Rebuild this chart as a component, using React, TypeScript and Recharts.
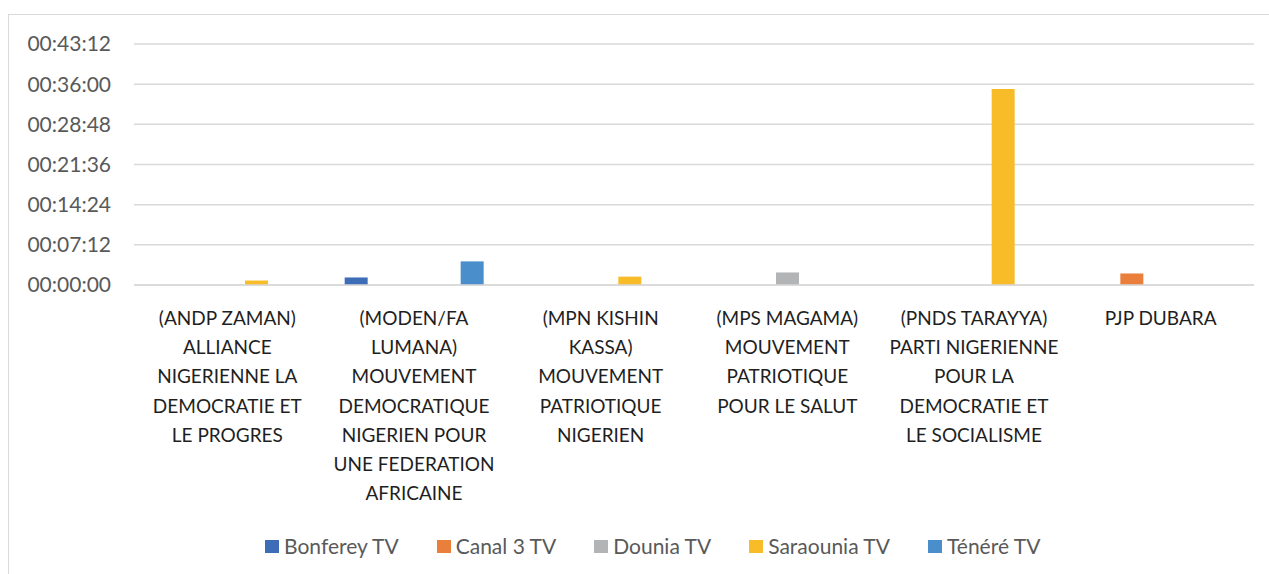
import { Bar, BarChart, CartesianGrid, XAxis, YAxis } from "recharts";

// durations in seconds
const categories = [
  "(ANDP ZAMAN) ALLIANCE NIGERIENNE LA DEMOCRATIE ET LE PROGRES",
  "(MODEN/FA LUMANA) MOUVEMENT DEMOCRATIQUE NIGERIEN POUR UNE FEDERATION AFRICAINE",
  "(MPN KISHIN KASSA) MOUVEMENT PATRIOTIQUE NIGERIEN",
  "(MPS MAGAMA) MOUVEMENT PATRIOTIQUE POUR LE SALUT",
  "(PNDS TARAYYA) PARTI NIGERIENNE POUR LA DEMOCRATIE ET LE SOCIALISME",
  "PJP DUBARA",
];

// how the category labels wrap in the original
const categoryLines = [
  ["(ANDP ZAMAN)", "ALLIANCE", "NIGERIENNE LA", "DEMOCRATIE ET", "LE PROGRES"],
  ["(MODEN/FA", "LUMANA)", "MOUVEMENT", "DEMOCRATIQUE", "NIGERIEN POUR", "UNE FEDERATION", "AFRICAINE"],
  ["(MPN KISHIN", "KASSA)", "MOUVEMENT", "PATRIOTIQUE", "NIGERIEN"],
  ["(MPS MAGAMA)", "MOUVEMENT", "PATRIOTIQUE", "POUR LE SALUT"],
  ["(PNDS TARAYYA)", "PARTI NIGERIENNE", "POUR LA", "DEMOCRATIE ET", "LE SOCIALISME"],
  ["PJP DUBARA"],
];

const bonferey = [0, 81, 0, 0, 0, 0];
const canal3 = [0, 0, 0, 0, 0, 124];
const dounia = [0, 0, 0, 135, 0, 0];
const saraounia = [48, 0, 90, 0, 2108, 0];
const tenere = [0, 254, 0, 0, 0, 0];

const yTicks = [0, 432, 864, 1296, 1728, 2160, 2592];

const series = [
  { key: "bonferey", name: "Bonferey TV", color: "#3C6DB6", values: bonferey },
  { key: "canal3", name: "Canal 3 TV", color: "#EA7E3B", values: canal3 },
  { key: "dounia", name: "Dounia TV", color: "#B2B4B5", values: dounia },
  { key: "saraounia", name: "Saraounia TV", color: "#F8BC29", values: saraounia },
  { key: "tenere", name: "Ténéré TV", color: "#4A8FCB", values: tenere },
];

const data = categories.map((name, i) => {
  const row: Record<string, number | string> = { name, idx: i };
  series.forEach((s) => {
    row[s.key] = s.values[i];
  });
  return row;
});

const FONT = "Lato, 'Open Sans', sans-serif";
const GRID = "#D9D9D9";

function pad(n: number): string {
  return n < 10 ? `0${n}` : `${n}`;
}

function formatDuration(sec: number): string {
  const h = Math.floor(sec / 3600);
  const m = Math.floor((sec % 3600) / 60);
  const s = Math.round(sec % 60);
  return `${pad(h)}:${pad(m)}:${pad(s)}`;
}

function CategoryTick({ x, y, index }: { x?: number; y?: number; index?: number }) {
  const lines = categoryLines[index ?? 0] ?? [];
  return (
    <text
      x={x}
      y={(y ?? 0) + 32}
      textAnchor="middle"
      fill="#1F1F1F"
      fontSize={19}
      fontFamily={FONT}
    >
      {lines.map((line, i) => (
        <tspan key={i} x={x} dy={i === 0 ? 0 : 29.2}>
          {line}
        </tspan>
      ))}
    </text>
  );
}

export default function App() {
  return (
    <div
      style={{
        position: "absolute",
        left: 0,
        top: 0,
        width: 1269,
        height: 574,
        overflow: "hidden",
        background: "#fff",
        fontFamily: FONT,
      }}
    >
      <div
        style={{
          position: "absolute",
          left: 8,
          top: 14,
          width: 1300,
          height: 600,
          borderLeft: `1.5px solid ${GRID}`,
          borderTop: `1.5px solid ${GRID}`,
        }}
      />
      <div style={{ position: "absolute", left: 0, top: 0 }}>
        <BarChart
          width={1269}
          height={574}
          data={data}
          margin={{ top: 44, right: 15, left: 0, bottom: 0 }}
          barSize={23}
          barGap={6}
        >
          <CartesianGrid stroke={GRID} strokeWidth={1.5} vertical={false} />
          <XAxis
            dataKey="name"
            height={289}
            interval={0}
            tickLine={false}
            axisLine={{ stroke: GRID, strokeWidth: 1.5 }}
            tick={<CategoryTick />}
          />
          <YAxis
            width={134}
            domain={[0, 2592]}
            ticks={yTicks}
            interval={0}
            tickFormatter={formatDuration}
            tickLine={false}
            axisLine={false}
            tickSize={0}
            tickMargin={23}
            tick={{ fill: "#595959", fontSize: 21, fontFamily: FONT }}
          />
          {series.map((s) => (
            <Bar
              key={s.key}
              dataKey={s.key}
              name={s.name}
              fill={s.color}
              isAnimationActive={false}
            />
          ))}
        </BarChart>
      </div>
      <div
        style={{
          position: "absolute",
          left: 265,
          top: 532,
          display: "flex",
          gap: 38,
          whiteSpace: "nowrap",
        }}
      >
        {series.map((s) => (
          <div
            key={s.key}
            style={{ display: "flex", alignItems: "center", gap: 5 }}
          >
            <span
              style={{
                display: "inline-block",
                width: 14,
                height: 13,
                background: s.color,
              }}
            />
            <span style={{ color: "#595959", fontSize: 21, lineHeight: "28px" }}>
              {s.name}
            </span>
          </div>
        ))}
      </div>
    </div>
  );
}
